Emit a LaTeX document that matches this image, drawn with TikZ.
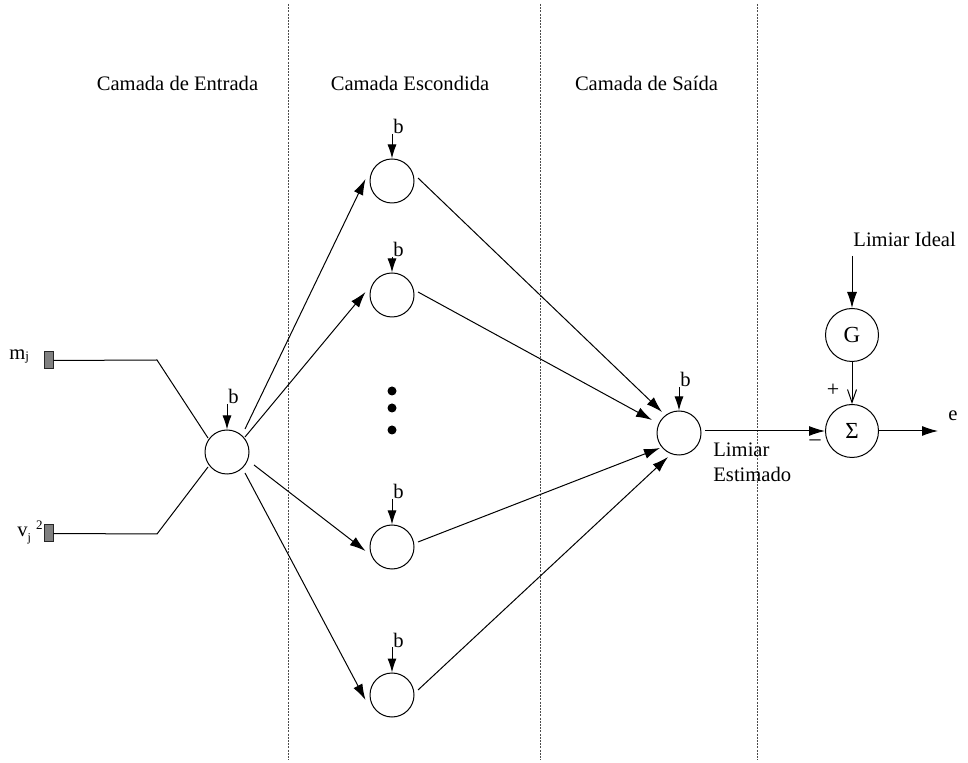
\documentclass[tikz,border=0pt]{standalone}
\usepackage{fontspec}
\setmainfont{Liberation Serif}
\usetikzlibrary{arrows.meta}
\begin{document}
\begin{tikzpicture}[x=0.5pt,y=-0.5pt,
  font=\fontsize{10.3}{12}\selectfont,
  neuron/.style={circle,draw,line width=0.5pt,minimum size=22pt,inner sep=0pt},
  bignode/.style={circle,draw,line width=0.5pt,minimum size=26.5pt,inner sep=0pt,font=\fontsize{11.5}{13}\selectfont},
  arr/.style={line width=0.5pt,-{Latex[length=8pt,width=5pt]}},
  biasarr/.style={line width=0.5pt,-{Latex[length=7pt,width=4.5pt]}},
  barbarr/.style={line width=0.5pt,-{Straight Barb[length=6.5pt,width=4.5pt]}},
  wire/.style={line width=0.5pt},
  sep/.style={line width=0.5pt,black!70,dash pattern=on 1pt off 0.6pt},
  lbl/.style={inner sep=0pt},
  blab/.style={inner sep=0pt,anchor=base west,xshift=0.5pt},
  inputbox/.style={draw=black!85,fill=black!50,line width=0.5pt,minimum width=4.5pt,minimum height=8.5pt,inner sep=0pt},
  dotmark/.style={fill=black}]
\useasboundingbox (0,0) rectangle (968,763);

% layer separators
\draw[sep] (288,4) -- (288,760);
\draw[sep] (540,4) -- (540,760);
\draw[sep] (757,4) -- (757,760);

% titles
\node[lbl,anchor=base] (t1) at (177.5,91) {Camada de Entrada};
\node[lbl,anchor=base] (t2) at (410,91) {Camada Escondida};
\node[lbl,anchor=base] (t3) at (646.5,91) {Camada de Saída};

% neurons
\node[neuron] (in) at (227,452) {};
\node[neuron] (h1) at (392,181) {};
\node[neuron] (h2) at (392,295) {};
\node[neuron] (h3) at (392,547) {};
\node[neuron] (h4) at (392,695) {};
\node[neuron] (out) at (679,433) {};
\node[bignode] (G) at (852,335) {G};
\node[bignode] (sum) at (852,431) {Σ};

% dots
\fill[dotmark] (392,391) circle (2.25pt);
\fill[dotmark] (392,408) circle (2.25pt);
\fill[dotmark] (392,430) circle (2.25pt);

% inputs
\node[inputbox] (mbox) at (48.5,360.5) {};
\node[inputbox] (vbox) at (48.5,533.5) {};
\node[lbl,anchor=base west] (mlab) at (9,360) {m\raisebox{-0.5pt}{\fontsize{6.5}{7}\selectfont j}};
\node[lbl,anchor=base west] (vlab) at (17,537) {v\raisebox{-2.5pt}{\fontsize{6}{7}\selectfont j}\hspace{2.5pt}\raisebox{3.5pt}{\fontsize{6.5}{7}\selectfont 2}};
\coordinate (mk) at (157,360);
\coordinate (vk) at (157,534);
\draw[wire] (mbox.east) -- (mk) -- ([shift={(-19,-14)}]in.center);
\draw[wire] (vbox.east) -- (vk) -- ([shift={(-19,15)}]in.center);

% input -> hidden
\draw[arr] ([shift={(18,-23)}]in.center) -- ([shift={(-4,-2)}]h1.west);
\draw[arr] ([shift={(18,-15)}]in.center) -- ([shift={(-4,-3)}]h2.west);
\draw[arr] ([shift={(27,13)}]in.center) -- ([shift={(-4,4)}]h3.west);
\draw[arr] ([shift={(18,21)}]in.center) -- ([shift={(-4,5)}]h4.west);

% hidden -> output
\draw[arr] ([shift={(26,-3)}]h1.center) -- ([shift={(-17,-21)}]out.center);
\draw[arr] ([shift={(26,-3)}]h2.center) -- ([shift={(-27,-13)}]out.center);
\draw[arr] ([shift={(26,-5)}]h3.center) -- ([shift={(-19,15)}]out.center);
\draw[arr] ([shift={(26,-5)}]h4.center) -- ([shift={(-11,24)}]out.center);

% bias inputs
\coordinate (bin) at (227,404);
\coordinate (bh1) at (392,134);
\coordinate (bh2) at (392,257);
\coordinate (bh3) at (392,499);
\coordinate (bh4) at (392,647);
\coordinate (bout) at (679,387);
\node[blab] (lbin) at (bin) {b};
\node[blab] (lbh1) at (bh1) {b};
\node[blab] (lbh2) at (bh2) {b};
\node[blab] (lbh3) at (bh3) {b};
\node[blab] (lbh4) at (bh4) {b};
\node[blab] (lbout) at (bout) {b};
\draw[biasarr] (bin) -- (in.north);
\draw[biasarr] (bh1) -- (h1.north);
\draw[biasarr] (bh2) -- (h2.north);
\draw[biasarr] (bh3) -- (h3.north);
\draw[biasarr] (bh4) -- (h4.north);
\draw[biasarr] (bout) -- (out.north);

% output stage
\draw[arr] ([shift={(26,-2)}]out.center) -- (sum.west);
\node[lbl,anchor=base west] (est1) at (713,457) {Limiar};
\node[lbl,anchor=base west] (est2) at (713,482) {Estimado};

\node[lbl,anchor=base west] (ideal) at (853,247) {Limiar Ideal};
\coordinate (gin) at (852,256);
\draw[arr] (gin) -- (G.north);
\draw[barbarr] (G.south) -- (sum.north);
\node[lbl,font=\fontsize{11}{13}\selectfont] (plus) at (833,390) {+};
\node[lbl,font=\fontsize{11}{13}\selectfont] (minus) at (815,443) {–};

\coordinate (eend) at (938,431);
\draw[arr] (sum.east) -- (eend);
\node[lbl] (e) at (953,416) {e};
\end{tikzpicture}
\end{document}
